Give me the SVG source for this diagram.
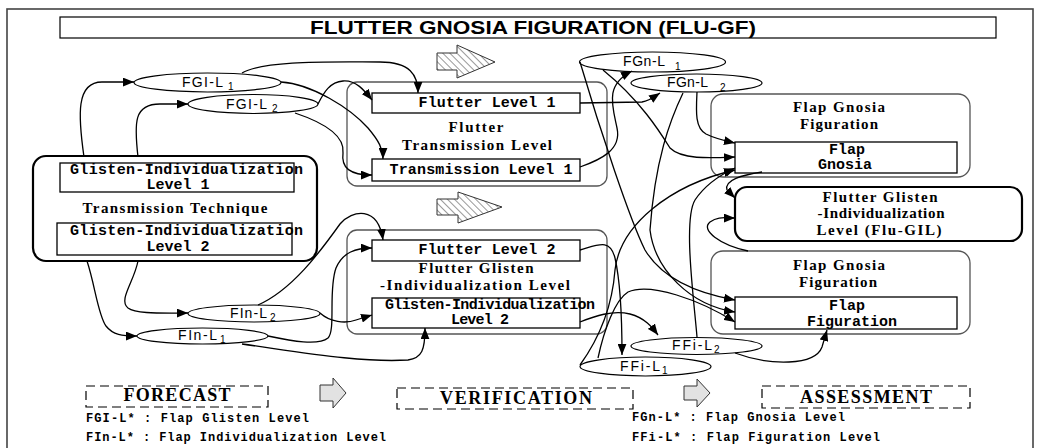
<svg xmlns="http://www.w3.org/2000/svg" width="1041" height="448" viewBox="0 0 1041 448">
<defs>
<marker id="ah" viewBox="0 0 10 8" refX="10" refY="4" markerWidth="11" markerHeight="9" markerUnits="userSpaceOnUse" orient="auto"><path d="M0,0 L10,4 L0,8 Z" fill="#000"/></marker>
<pattern id="hatch" width="5" height="5" patternUnits="userSpaceOnUse" patternTransform="rotate(-45)"><rect width="5" height="5" fill="#fff"/><line x1="0" y1="0" x2="0" y2="5" stroke="#333" stroke-width="1"/></pattern>
<style>
.frame{fill:none;stroke:#444;stroke-width:1.6}
.grp{fill:#fff;stroke:#555;stroke-width:1.3}
.thick{fill:#fff;stroke:#000;stroke-width:2.2}
.box{fill:#fff;stroke:#000;stroke-width:1.3}
.ell{fill:#fff;stroke:#000;stroke-width:1.2}
.dash{fill:none;stroke:#000;stroke-width:1.2;stroke-dasharray:9 5}
.mono{font-family:"Liberation Mono",monospace;font-weight:bold;font-size:15px;fill:#000}
.serif{font-family:"Liberation Serif",serif;font-weight:bold;font-size:15px;fill:#000}
.big{font-family:"Liberation Serif",serif;font-weight:bold;font-size:18px;fill:#000}
.sans{font-family:"Liberation Sans",sans-serif;font-size:14px;fill:#000}
.sub{font-family:"Liberation Sans",sans-serif;font-size:10px;fill:#000}
.leg{font-family:"Liberation Mono",monospace;font-weight:bold;font-size:12px;fill:#000}
.title{font-family:"Liberation Sans",sans-serif;font-weight:bold;font-size:19px;fill:#000}
.c{fill:none;stroke:#000;stroke-width:1.3}
.ca{fill:none;stroke:#000;stroke-width:1.3;marker-end:url(#ah)}
.harrow{fill:url(#hatch);stroke:#333;stroke-width:1}
.garrow{fill:#e2e2e2;stroke:#333;stroke-width:1}
</style>
</defs>
<rect x="7" y="9" width="1026" height="446" class="frame"/>
<g id="title"><rect x="60" y="17" width="936" height="21" fill="#fff" stroke="#000" stroke-width="1.2"/><text x="533" y="34" class="title" text-anchor="middle" textLength="446" lengthAdjust="spacingAndGlyphs">FLUTTER GNOSIA FIGURATION (FLU-GF)</text></g>

<g id="hatched-arrows">
<path class="harrow" d="M437,53 L457,53 L457,45 L495,62 L457,78 L457,70 L437,70 Z"/>
<path class="harrow" d="M437,199 L458,199 L458,192 L502,207 L458,223 L458,215 L437,215 Z"/>
</g>

<g id="transmission-technique">
<rect x="33" y="156" width="284" height="105" rx="13" class="thick"/>
<rect x="60" y="163" width="234" height="29" class="box"/>
<text x="70" y="174" class="mono" textLength="233" lengthAdjust="spacing">Glisten-Individualization</text>
<text x="178" y="189" class="mono" text-anchor="middle">Level 1</text>
<text x="175" y="213" class="serif" text-anchor="middle" textLength="185" lengthAdjust="spacing">Transmission Technique</text>
<rect x="57" y="223" width="235" height="32" class="box"/>
<text x="70" y="235" class="mono" textLength="233" lengthAdjust="spacing">Glisten-Individualization</text>
<text x="178" y="251" class="mono" text-anchor="middle">Level 2</text>
</g>

<g id="flutter-transmission-level">
<rect x="347" y="82" width="260" height="104" rx="10" class="grp"/>
<rect x="372" y="93" width="208" height="20" class="box"/>
<text x="487" y="107" class="mono" text-anchor="middle" textLength="137" lengthAdjust="spacing">Flutter Level 1</text>
<text x="476" y="132" class="serif" text-anchor="middle" textLength="55" lengthAdjust="spacing">Flutter</text>
<text x="477" y="150" class="serif" text-anchor="middle" textLength="150" lengthAdjust="spacing">Transmission Level</text>
<rect x="372" y="159" width="208" height="22" class="box"/>
<text x="481" y="174" class="mono" text-anchor="middle" textLength="183" lengthAdjust="spacing">Transmission Level 1</text>
</g>

<g id="flutter-glisten-level">
<rect x="347" y="230" width="260" height="104" rx="10" class="grp"/>
<rect x="372" y="240" width="208" height="21" class="box"/>
<text x="487" y="254" class="mono" text-anchor="middle" textLength="137" lengthAdjust="spacing">Flutter Level 2</text>
<text x="476" y="273" class="serif" text-anchor="middle" textLength="115" lengthAdjust="spacing">Flutter Glisten</text>
<text x="475" y="290" class="serif" text-anchor="middle" textLength="190" lengthAdjust="spacing">-Individualization  Level</text>
<rect x="372" y="298" width="208" height="30" class="box"/>
<text x="385" y="309" class="mono" font-size="13" textLength="210" lengthAdjust="spacing">Glisten-Individualization</text>
<text x="480" y="324" class="mono" font-size="13" text-anchor="middle" textLength="58" lengthAdjust="spacing">Level 2</text>
</g>

<g id="flap-gnosia-figuration-1">
<rect x="711" y="94" width="259" height="83" rx="12" class="grp"/>
<text x="839" y="112" class="serif" text-anchor="middle" textLength="92" lengthAdjust="spacing">Flap Gnosia</text>
<text x="839" y="129" class="serif" text-anchor="middle" textLength="78" lengthAdjust="spacing">Figuration</text>
<rect x="735" y="142" width="222" height="31" class="box"/>
<text x="847" y="154" class="mono" font-size="13" text-anchor="middle" textLength="36" lengthAdjust="spacing">Flap</text>
<text x="845" y="169" class="mono" font-size="13" text-anchor="middle" textLength="54" lengthAdjust="spacing">Gnosia</text>
</g>

<g id="flu-gil">
<rect x="735" y="187" width="287" height="54" rx="12" class="thick"/>
<text x="880" y="202" class="serif" text-anchor="middle" textLength="115" lengthAdjust="spacing">Flutter Glisten</text>
<text x="881" y="218" class="serif" text-anchor="middle" textLength="127" lengthAdjust="spacing">-Individualization</text>
<text x="879" y="235" class="serif" text-anchor="middle" textLength="125" lengthAdjust="spacing">Level (Flu-GIL)</text>
</g>

<g id="flap-gnosia-figuration-2">
<rect x="711" y="251" width="259" height="83" rx="12" class="grp"/>
<text x="839" y="270" class="serif" text-anchor="middle" textLength="92" lengthAdjust="spacing">Flap Gnosia</text>
<text x="838" y="287" class="serif" text-anchor="middle" textLength="78" lengthAdjust="spacing">Figuration</text>
<rect x="735" y="297" width="222" height="32" class="box"/>
<text x="847" y="310" class="mono" text-anchor="middle">Flap</text>
<text x="852" y="326" class="mono" text-anchor="middle">Figuration</text>
</g>

<g id="fgi-l1"><ellipse cx="207.5" cy="82.5" rx="73.5" ry="9.5" class="ell"/><text x="182" y="87" class="sans" textLength="41" lengthAdjust="spacing">FGI-L</text><text x="228" y="90" class="sub">1</text></g>
<g id="fgi-l2"><ellipse cx="253" cy="104" rx="65" ry="9.5" class="ell"/><text x="226" y="109" class="sans" textLength="41" lengthAdjust="spacing">FGI-L</text><text x="272" y="112" class="sub">2</text></g>
<g id="fin-l2"><ellipse cx="254" cy="313.5" rx="66" ry="8.5" class="ell"/><text x="230" y="318" class="sans" textLength="37" lengthAdjust="spacing">FIn-L</text><text x="270" y="321" class="sub">2</text></g>
<g id="fin-l1"><ellipse cx="202.5" cy="336" rx="65.5" ry="8" class="ell"/><text x="178" y="340" class="sans" textLength="39" lengthAdjust="spacing">FIn-L</text><text x="220" y="343" class="sub">1</text></g>
<g id="fgn-l1"><ellipse cx="652.5" cy="62" rx="73" ry="10" class="ell"/><text x="623" y="66" class="sans" textLength="42" lengthAdjust="spacing">FGn-L</text><text x="675" y="70" class="sub">1</text></g>
<g id="fgn-l2"><ellipse cx="696.5" cy="83" rx="65.5" ry="9" class="ell"/><text x="667" y="87" class="sans" textLength="41" lengthAdjust="spacing">FGn-L</text><text x="720" y="91" class="sub">2</text></g>
<g id="ffi-l2"><ellipse cx="696.5" cy="346" rx="65.5" ry="8.5" class="ell"/><text x="672" y="350" class="sans" textLength="40" lengthAdjust="spacing">FFi-L</text><text x="714" y="353" class="sub">2</text></g>
<g id="ffi-l1"><ellipse cx="645.5" cy="366.5" rx="65.5" ry="9.5" class="ell"/><text x="620" y="371" class="sans" textLength="40" lengthAdjust="spacing">FFi-L</text><text x="662" y="374" class="sub">1</text></g>

<g id="connectors">
<path class="ca" d="M84,157 C78,115 76,82 102,82 L134,82"/>
<path class="ca" d="M138,157 C134,122 134,104 160,104 L188,104"/>
<path class="ca" d="M242,73 C265,60 330,62 380,62 C410,62 418,75 418,93"/>
<path class="ca" d="M281,82 C312,84 350,108 368,128 C379,141 383,149 383,159"/>
<path class="ca" d="M318,104 C324,92 330,82 343,81 C356,80 364,90 372,100"/>
<path class="ca" d="M295,113 C322,122 345,135 343,153 C341,168 350,175 372,175"/>
<path class="ca" d="M87,261 C95,285 98,315 106,326 C113,335 122,336 137,336"/>
<path class="ca" d="M138,261 C134,282 118,300 128,308 C136,314 160,313 188,313"/>
<path class="ca" d="M258,305 C292,290 320,252 340,224 C352,210 378,205 383,240"/>
<path class="ca" d="M268,336 C292,341 318,346 328,338 C336,330 328,290 336,268 C343,252 356,248 372,248"/>
<path class="ca" d="M320,313 C330,322 345,324 356,320 L372,315"/>
<path class="ca" d="M242,344 C300,352 362,363 408,360 C422,358 425,350 425,328"/>
<path class="ca" d="M580,103 L642,102 C650,101 654,97 660,93"/>
<path class="ca" d="M580,167 C600,160 622,150 617,128 C612,104 605,85 632,71"/>
<path class="ca" d="M697,92 C696,112 695,128 706,134 C716,139 726,141 735,143"/>
<path class="ca" d="M603,70 C640,100 660,132 670,148 C682,160 712,158 735,157"/>
<path class="ca" d="M580,365 C598,340 612,310 615,270 C620,225 670,185 735,170"/>
<path class="ca" d="M697,337 C694,300 683,220 695,200 C705,185 720,175 735,168"/>
<path class="ca" d="M762,172 C742,175 724,180 727,190 L735,198"/>
<path class="ca" d="M748,251 C720,245 700,230 710,222 C718,216 725,218 735,218"/>
<path class="ca" d="M580,322 C595,316 612,310 630,314 C645,318 652,327 658,335"/>
<path class="ca" d="M580,250 C598,245 610,238 615,258 C620,280 622,320 622,355"/>
<path class="ca" d="M735,353 C770,366 815,366 822,347 L827,330"/>
<path class="ca" d="M580,62 C600,130 630,220 645,250 C660,275 690,292 735,300"/>
<path class="ca" d="M683,93 C670,120 655,160 650,230 C655,270 690,305 735,312"/>
<path class="ca" d="M598,358 C604,330 615,300 628,292 C650,282 700,300 735,322"/>
</g>

<g id="phase-labels">
<rect x="86" y="386" width="182" height="21" class="dash"/>
<text x="177" y="401" class="big" text-anchor="middle" textLength="107" lengthAdjust="spacing">FORECAST</text>
<rect x="397" y="388" width="236" height="21" class="dash"/>
<text x="516" y="404" class="big" text-anchor="middle" textLength="152" lengthAdjust="spacing">VERIFICATION</text>
<rect x="762" y="386" width="208" height="22" class="dash"/>
<text x="866" y="403" class="big" text-anchor="middle" textLength="132" lengthAdjust="spacing">ASSESSMENT</text>
<path class="garrow" d="M320,385 L333,385 L333,378 L346,393 L333,408 L333,401 L320,401 Z"/>
<path class="garrow" d="M684,386 L697,386 L697,379 L710,393 L697,407 L697,400 L684,400 Z"/>
</g>

<g id="legend">
<text x="86" y="422" class="leg" textLength="223" lengthAdjust="spacing">FGI-L* : Flap Glisten Level</text>
<text x="86" y="441" class="leg" textLength="300" lengthAdjust="spacing">FIn-L* : Flap Individualization Level</text>
<text x="632" y="421" class="leg" textLength="213" lengthAdjust="spacing">FGn-L* : Flap Gnosia Level</text>
<text x="632" y="441" class="leg" textLength="248" lengthAdjust="spacing">FFi-L* : Flap Figuration Level</text>
</g>
</svg>
